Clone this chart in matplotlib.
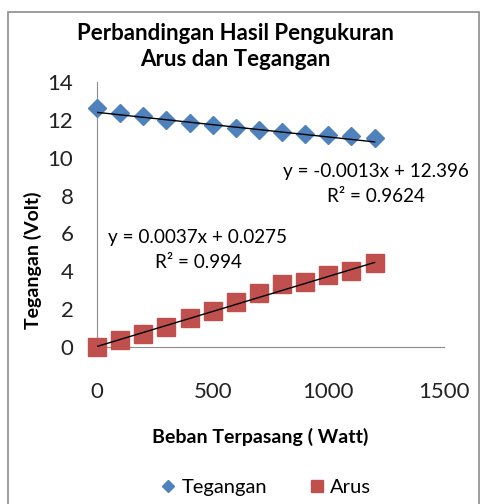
import matplotlib.pyplot as plt
from matplotlib.patches import Rectangle

plt.rcParams['font.family'] = ['Lato', 'DejaVu Sans']

# beban (watt) dan hasil pengukuran
beban = [0, 100, 200, 300, 400, 500, 600, 700, 800, 900, 1000, 1100, 1200]
tegangan = [12.64, 12.34, 12.22, 11.99, 11.82, 11.73, 11.59, 11.48, 11.37, 11.25, 11.2, 11.16, 11.06]
arus = [0.02, 0.37, 0.69, 1.07, 1.52, 1.90, 2.39, 2.83, 3.31, 3.42, 3.80, 4.03, 4.42]

# koefisien garis tren (linear)
teg_slope, teg_icpt, teg_r2 = -0.0013, 12.396, 0.9624
arus_slope, arus_icpt, arus_r2 = 0.0037, 0.0275, 0.994

W, H = 483, 504
fig = plt.figure(figsize=(W / 100, H / 100), dpi=100)
ax = fig.add_axes([97 / W, 1 - 347 / H, (444 - 97) / W, (347 - 82) / H])

# bingkai chart
fig.patches.append(Rectangle((8 / W, -0.05), (479 - 8) / W, 1 - 12 / H + 0.05,
                             transform=fig.transFigure, fill=False,
                             edgecolor='#8c8c8c', linewidth=1.2))

ax.plot(beban, tegangan, linestyle='none', marker='D', markersize=9.5,
        color='#4F81BD', label='Tegangan', clip_on=False, zorder=3)
ax.plot(beban, arus, linestyle='none', marker='s', markersize=13.5,
        color='#C0504D', label='Arus', clip_on=False, zorder=3)

xs = [beban[0], beban[-1]]
ax.plot(xs, [teg_slope * x + teg_icpt for x in xs], color='black', lw=1, zorder=4)
ax.plot(xs, [arus_slope * x + arus_icpt for x in xs], color='black', lw=1, zorder=4)

ax.set_xlim(0, 1500)
ax.set_ylim(0, 14)
ax.set_xticks([0, 500, 1000, 1500])
ax.set_yticks(range(0, 15, 2))
ax.tick_params(length=0, labelsize=16, colors='#222222')
ax.tick_params(axis='y', pad=17)
ax.tick_params(axis='x', pad=25)
for s in ['top', 'right']:
    ax.spines[s].set_visible(False)
for s in ['left', 'bottom']:
    ax.spines[s].set_color('#8c8c8c')

ax.set_xlabel('Beban Terpasang ( Watt)', fontsize=14, fontweight='bold')
ax.set_ylabel('Tegangan (Volt)', fontsize=14, fontweight='bold')
ax.xaxis.set_label_coords((260 - 97) / (444 - 97), (347 - 437) / (347 - 82))
ax.yaxis.set_label_coords((33 - 97) / (444 - 97), (347 - 260) / (347 - 82))
ax.xaxis.label.set_verticalalignment('center')
ax.yaxis.label.set_verticalalignment('center')

fig.text(235 / W, 1 - 33 / H, 'Perbandingan Hasil Pengukuran', fontsize=16,
         fontweight='bold', ha='center', va='center')
fig.text(235 / W, 1 - 60 / H, 'Arus dan Tegangan', fontsize=16,
         fontweight='bold', ha='center', va='center')

# persamaan garis tren
fs = 13.6
fig.text(376 / W, 1 - 172 / H, f'y = {teg_slope}x + {teg_icpt}', fontsize=fs,
         ha='center', va='center')
fig.text(376 / W, 1 - 196 / H, f'R² = {teg_r2}', fontsize=fs,
         ha='center', va='center')
fig.text(198 / W, 1 - 237 / H, f'y = {arus_slope}x + {arus_icpt}', fontsize=fs,
         ha='center', va='center')
fig.text(198 / W, 1 - 262 / H, f'R² = {arus_r2}', fontsize=fs,
         ha='center', va='center')

fig.legend(loc='center', bbox_to_anchor=(265 / W, 1 - 487 / H), ncol=2,
           frameon=False, fontsize=14.5, handletextpad=0.2, columnspacing=2.0,
           markerscale=0.6, handlelength=0.9)

fig.savefig('out.png', dpi=100)
